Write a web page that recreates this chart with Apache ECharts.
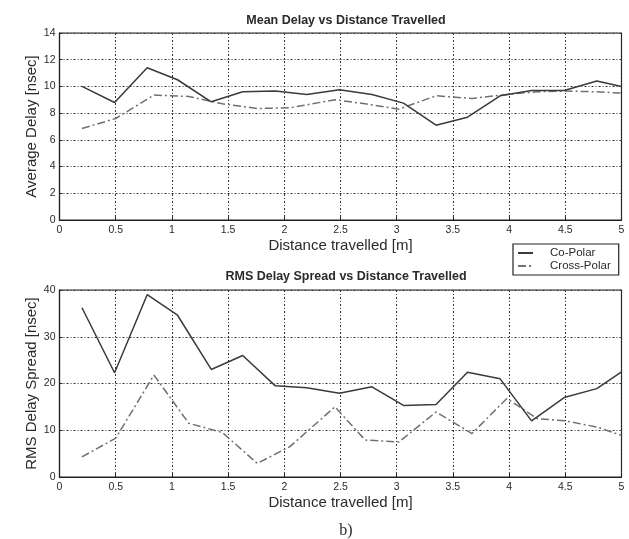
<!DOCTYPE html>
<html>
<head>
<meta charset="utf-8">
<script src="https://cdn.jsdelivr.net/npm/echarts@6/dist/echarts.min.js"></script>
<style>
html,body{margin:0;padding:0;background:#fff;}
#c{width:629px;height:539px;}
</style>
</head>
<body>
<div id="c"></div>
<script>
// Distances [m] at which each series was sampled
var xCo    = [0.2, 0.49, 0.78, 1.05, 1.35, 1.63, 1.92, 2.2, 2.49, 2.78, 3.06, 3.35, 3.63, 3.92, 4.2, 4.49, 4.78, 5.0];
var xCross = [0.2, 0.5, 0.84, 1.15, 1.45, 1.76, 2.05, 2.45, 2.72, 3.02, 3.35, 3.67, 3.98, 4.25, 4.5, 4.78, 5.0];

// Mean delay [nsec]
var meanCo    = [10.0, 8.8, 11.4, 10.5, 8.85, 9.6, 9.65, 9.4, 9.75, 9.4, 8.75, 7.1, 7.7, 9.3, 9.7, 9.7, 10.4, 10.0];
var meanCross = [6.85, 7.6, 9.35, 9.25, 8.7, 8.35, 8.4, 9.0, 8.7, 8.3, 9.3, 9.1, 9.4, 9.6, 9.65, 9.6, 9.5];

// RMS delay spread [nsec]
var rmsCo    = [36.2, 22.3, 39.0, 34.6, 23.0, 26.0, 19.5, 19.1, 17.9, 19.3, 15.3, 15.5, 22.4, 21.0, 12.0, 17.0, 18.9, 22.5];
var rmsCross = [4.3, 8.3, 21.8, 11.5, 9.5, 2.9, 6.5, 15.0, 7.9, 7.5, 13.9, 9.3, 16.8, 12.5, 12.0, 10.7, 8.9];

var seriesNames = ['Co-Polar', 'Cross-Polar'];
var titles = ['Mean Delay vs Distance Travelled', 'RMS Delay Spread vs Distance Travelled'];
var yNames = ['Average Delay [nsec]', 'RMS Delay Spread [nsec]'];
var xName = 'Distance travelled [m]';

function pairs(xs, ys){ return ys.map(function(v,i){ return [xs[i], v]; }); }

var FONT = 'Liberation Sans';
var TXT = '#2a2a2a';
var gridLine = { show:true, lineStyle:{ color:'#333', width:1, type:[2,2,1,2] } };

function xAxis(idx){
  return {
    type:'value', gridIndex:idx, min:0, max:5, interval:0.5,
    name:xName, nameLocation:'middle', nameGap:18, nameMoveOverlap:false,
    nameTextStyle:{ fontFamily:FONT, fontSize:15, color:TXT },
    axisLine:{ show:true, onZero:false, lineStyle:{ color:'#222', width:1.2 } },
    axisTick:{ show:true, inside:true, length:3, lineStyle:{ color:'#222' } },
    axisLabel:{ fontFamily:FONT, fontSize:10.5, color:TXT, margin:5 },
    splitLine:gridLine
  };
}
function yAxis(idx, max, interval){
  return {
    type:'value', gridIndex:idx, min:0, max:max, interval:interval,
    name:yNames[idx], nameLocation:'middle', nameGap:20, nameMoveOverlap:false,
    nameTextStyle:{ fontFamily:FONT, fontSize:15, color:TXT },
    axisLine:{ show:true, onZero:false, lineStyle:{ color:'#222', width:1.2 } },
    axisTick:{ show:true, inside:true, length:3, lineStyle:{ color:'#222' } },
    axisLabel:{ fontFamily:FONT, fontSize:10.5, color:TXT, margin:4 },
    splitLine:gridLine
  };
}

var coStyle = { color:'#3a3a3a', width:1.5, type:'solid' };
var crossStyle = { color:'#707070', width:1.5, type:[8,3,2,3] };

var chart = echarts.init(document.getElementById('c'), null, { renderer:'canvas' });
chart.setOption({
  animation:false,
  backgroundColor:'#fff',
  title:[
    { text:titles[0], left:341, top:9, textAlign:'center',
      textStyle:{ fontFamily:FONT, fontSize:12.5, fontWeight:'bold', color:TXT } },
    { text:titles[1], left:341, top:265, textAlign:'center',
      textStyle:{ fontFamily:FONT, fontSize:12.5, fontWeight:'bold', color:TXT } },
    { text:'b)', left:341, top:518, textAlign:'center',
      textStyle:{ fontFamily:'Liberation Serif', fontSize:16, fontWeight:'normal', color:TXT } }
  ],
  legend:{
    data:seriesNames, orient:'vertical', left:513, top:244,
    backgroundColor:'#fff', borderColor:'#222', borderWidth:1.2, borderRadius:0,
    padding:[3,8,3,4], itemGap:1, itemWidth:15, itemHeight:12,
    itemStyle:{ opacity:0 },
    textStyle:{ fontFamily:FONT, fontSize:11.5, color:TXT, padding:[0,0,0,12] }
  },
  grid:[
    { left:59.5, right:7.5, top:33, height:187, show:true, borderColor:'#222', borderWidth:1.2, containLabel:false },
    { left:59.5, right:7.5, top:290, height:187, show:true, borderColor:'#222', borderWidth:1.2, containLabel:false }
  ],
  xAxis:[ xAxis(0), xAxis(1) ],
  yAxis:[ yAxis(0, 14, 2), yAxis(1, 40, 10) ],
  series:[
    { name:seriesNames[0], type:'line', xAxisIndex:0, yAxisIndex:0, symbol:'none', z:3, data:pairs(xCo, meanCo), lineStyle:coStyle, itemStyle:{color:coStyle.color} },
    { name:seriesNames[1], type:'line', xAxisIndex:0, yAxisIndex:0, symbol:'none', z:2, data:pairs(xCross, meanCross), lineStyle:crossStyle, itemStyle:{color:crossStyle.color} },
    { name:seriesNames[0], type:'line', xAxisIndex:1, yAxisIndex:1, symbol:'none', z:3, data:pairs(xCo, rmsCo), lineStyle:coStyle, itemStyle:{color:coStyle.color} },
    { name:seriesNames[1], type:'line', xAxisIndex:1, yAxisIndex:1, symbol:'none', z:2, data:pairs(xCross, rmsCross), lineStyle:crossStyle, itemStyle:{color:crossStyle.color} }
  ]
});
</script>
</body>
</html>
